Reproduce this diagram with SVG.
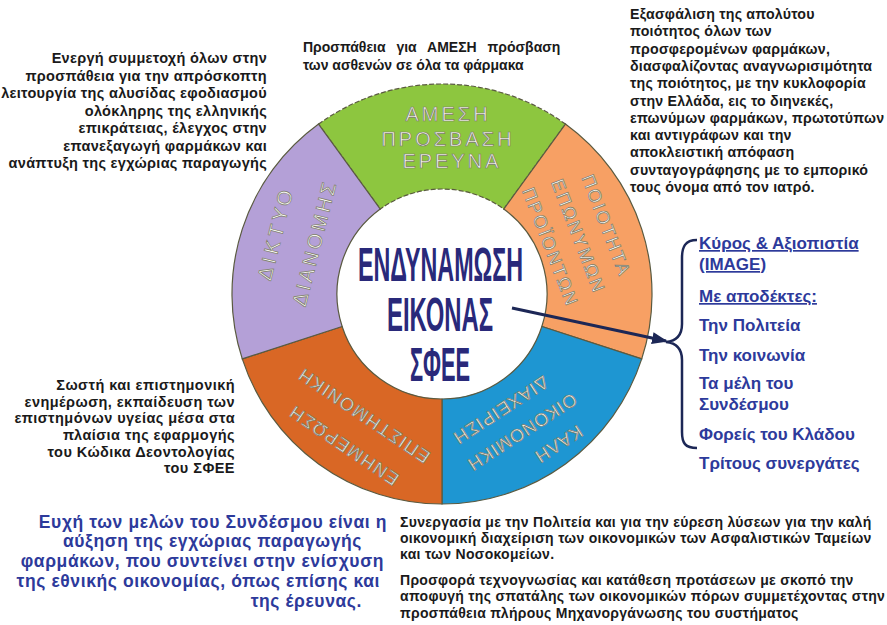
<svg xmlns="http://www.w3.org/2000/svg" width="887" height="625" viewBox="0 0 887 625">
<style>
.t{font-family:"Liberation Sans",Arial,sans-serif;font-weight:bold;fill:#1a1a1a;font-size:14.5px;letter-spacing:0.45px}
.b{font-family:"Liberation Sans",Arial,sans-serif;font-weight:bold;fill:#2d3a9b}
.c{font-family:"Liberation Sans",Arial,sans-serif;font-weight:bold;fill:#29297a;font-size:48px}
.s{font-family:"Liberation Sans",Arial,sans-serif;fill:#f7f7f0;stroke:#7a7a6a;stroke-width:0.7;text-anchor:middle}
.seg{stroke:#5a5a40;stroke-width:1.2}
</style>
<defs>
<marker id="ah" markerUnits="userSpaceOnUse" markerWidth="16" markerHeight="12" refX="14" refY="6" orient="auto">
<path d="M0,0 L16,6 L0,12 Z" fill="#1c2756"/>
</marker>
</defs>
<rect width="887" height="625" fill="#ffffff"/>

<g id="seg-green">
<path class="seg" d="M318.56,124.11 A210,210 0 0 1 565.44,124.11 L503.72,209.05 A105,105 0 0 0 380.28,209.05 Z" fill="#8dc63f" stroke-dasharray="5 2"/>
<text class="s" font-size="20" letter-spacing="3" x="448" y="121">ΑΜΕΣΗ</text>
<text class="s" font-size="20" letter-spacing="3" x="448" y="146">ΠΡΟΣΒΑΣΗ</text>
<text class="s" font-size="20" letter-spacing="3" x="452" y="168">ΕΡΕΥΝΑ</text>
</g>
<g id="seg-orange">
<path class="seg" d="M565.44,124.11 A210,210 0 0 1 641.73,358.89 L541.87,326.45 A105,105 0 0 0 503.72,209.05 Z" fill="#f7a064"/>
<g transform="translate(579,236) rotate(69)">
<text class="s" font-size="18" letter-spacing="2" x="0" y="-23">ΠΟΙΟΤΗΤΑ</text>
<text class="s" font-size="18" letter-spacing="2" x="0" y="7">ΕΠΩΝΥΜΩΝ</text>
<text class="s" font-size="18" letter-spacing="2" x="0" y="37">ΠΡΟΪΟΝΤΩΝ</text>
</g>
</g>
<g id="seg-blue">
<path class="seg" d="M641.73,358.89 A210,210 0 0 1 442,504 L442,399 A105,105 0 0 0 541.87,326.45 Z" fill="#1e96d2"/>
<g transform="translate(522,432) rotate(147)">
<text class="s" font-size="18" letter-spacing="1" x="-24" y="-24">ΚΑΛΗ</text>
<text class="s" font-size="18" letter-spacing="1" x="0" y="6">ΟΙΚΟΝΟΜΙΚΗ</text>
<text class="s" font-size="18" letter-spacing="1" x="6" y="36">ΔΙΑΧΕΙΡΙΣΗ</text>
</g>
</g>
<g id="seg-darkorange">
<path class="seg" d="M442,504 A210,210 0 0 1 242.27,358.89 L342.13,326.45 A105,105 0 0 0 442,399 Z" fill="#d96725"/>
<g transform="translate(356,427) rotate(-146)">
<text class="s" font-size="18" letter-spacing="1.5" x="0" y="-16">ΕΝΗΜΕΡΩΣΗ</text>
<text class="s" font-size="18" letter-spacing="1.5" x="0" y="20">ΕΠΙΣΤΗΜΟΝΙΚΗ</text>
</g>
</g>
<g id="seg-purple">
<path class="seg" d="M242.27,358.89 A210,210 0 0 1 318.56,124.11 L380.28,209.05 A105,105 0 0 0 342.13,326.45 Z" fill="#b4a0d7"/>
<g transform="translate(295,238) rotate(-76)">
<text class="s" font-size="20" letter-spacing="4" x="0" y="-13">ΔΙΚΤΥΟ</text>
<text class="s" font-size="20" letter-spacing="3" x="0" y="27">ΔΙΑΝΟΜΗΣ</text>
</g>
</g>

<g id="center">
<text class="c" x="358" y="281" textLength="165" lengthAdjust="spacingAndGlyphs">ΕΝΔΥΝΑΜΩΣΗ</text>
<text class="c" x="387" y="331" textLength="106" lengthAdjust="spacingAndGlyphs">ΕΙΚΟΝΑΣ</text>
<text class="c" x="410" y="381" textLength="60" lengthAdjust="spacingAndGlyphs">ΣΦΕΕ</text>
</g>

<g id="connectors">
<line x1="512" y1="308" x2="666" y2="341" stroke="#1c2756" stroke-width="3" marker-end="url(#ah)"/>
<path d="M697,240 C685,240 682,247 682,258 L682,324 C682,336 676,341 666,342 C676,343 682,348 682,360 L682,432 C682,443 685,448 697,448" fill="none" stroke="#1c2756" stroke-width="2.5"/>
</g>

<g id="text-topleft" class="t" text-anchor="end" style="letter-spacing:0.3px">
<text x="267" y="63">Ενεργή συμμετοχή όλων στην</text>
<text x="267" y="80.5">προσπάθεια για την απρόσκοπτη</text>
<text x="267" y="98">λειτουργία της αλυσίδας εφοδιασμού</text>
<text x="267" y="115.5">ολόκληρης της ελληνικής</text>
<text x="267" y="133">επικράτειας, έλεγχος στην</text>
<text x="267" y="150.5">επανεξαγωγή φαρμάκων και</text>
<text x="267" y="168">ανάπτυξη της εγχώριας παραγωγής</text>
</g>

<g id="text-topcenter" class="t" style="font-size:14px;letter-spacing:0">
<text x="303" y="52" word-spacing="7">Προσπάθεια για ΑΜΕΣΗ πρόσβαση</text>
<text x="303" y="70">των ασθενών σε όλα τα φάρμακα</text>
</g>

<g id="text-topright" class="t" style="font-size:14.2px;letter-spacing:0.2px">
<text x="630" y="19">Εξασφάλιση της απολύτου</text>
<text x="630" y="36.3">ποιότητος όλων των</text>
<text x="630" y="53.6">προσφερομένων φαρμάκων,</text>
<text x="630" y="70.9">διασφαλίζοντας αναγνωρισιμότητα</text>
<text x="630" y="88.2">της ποιότητος, με την κυκλοφορία</text>
<text x="630" y="105.5">στην Ελλάδα, εις το διηνεκές,</text>
<text x="630" y="122.8">επωνύμων φαρμάκων, πρωτοτύπων</text>
<text x="630" y="140.1">και αντιγράφων και την</text>
<text x="630" y="157.4">αποκλειστική απόφαση</text>
<text x="630" y="174.7">συνταγογράφησης με το εμπορικό</text>
<text x="630" y="192">τους όνομα από τον ιατρό.</text>
</g>

<g id="text-right" class="b" font-size="17">
<text x="699" y="249" text-decoration="underline">Κύρος &amp; Αξιοπιστία</text>
<text x="699" y="270" text-decoration="underline">(IMAGE)</text>
<text x="699" y="302" text-decoration="underline">Με αποδέκτες:</text>
<text x="699" y="331">Την Πολιτεία</text>
<text x="699" y="361">Την κοινωνία</text>
<text x="699" y="389">Τα μέλη του</text>
<text x="699" y="410">Συνδέσμου</text>
<text x="699" y="440">Φορείς του Κλάδου</text>
<text x="699" y="469">Τρίτους συνεργάτες</text>
</g>

<g id="text-midleft" class="t" text-anchor="end" style="letter-spacing:0.45px">
<text x="235" y="390">Σωστή και επιστημονική</text>
<text x="235" y="407">ενημέρωση, εκπαίδευση των</text>
<text x="235" y="423">επιστημόνων υγείας μέσα στα</text>
<text x="235" y="440">πλαίσια της εφαρμογής</text>
<text x="235" y="457">του Κώδικα Δεοντολογίας</text>
<text x="235" y="473">του ΣΦΕΕ</text>
</g>

<g id="text-bottomleft" class="b" font-size="17.5" text-anchor="end" letter-spacing="0.6">
<text x="387" y="528">Ευχή των μελών του Συνδέσμου είναι η</text>
<text x="362" y="547">αύξηση της εγχώριας παραγωγής</text>
<text x="384" y="567">φαρμάκων, που συντείνει στην ενίσχυση</text>
<text x="380" y="587">της εθνικής οικονομίας, όπως επίσης και</text>
<text x="362" y="607">της έρευνας.</text>
</g>

<g id="text-bottomright" class="t" style="font-size:14px;letter-spacing:0.3px">
<text x="400" y="527">Συνεργασία με την Πολιτεία και για την εύρεση λύσεων για την καλή</text>
<text x="400" y="543">οικονομική διαχείριση των οικονομικών των Ασφαλιστικών Ταμείων</text>
<text x="400" y="559">και των Νοσοκομείων.</text>
<text x="400" y="585">Προσφορά τεχνογνωσίας και κατάθεση προτάσεων με σκοπό την</text>
<text x="400" y="601">αποφυγή της σπατάλης των οικονομικών πόρων συμμετέχοντας στην</text>
<text x="400" y="618">προσπάθεια πλήρους Μηχανοργάνωσης του συστήματος</text>
</g>
</svg>
